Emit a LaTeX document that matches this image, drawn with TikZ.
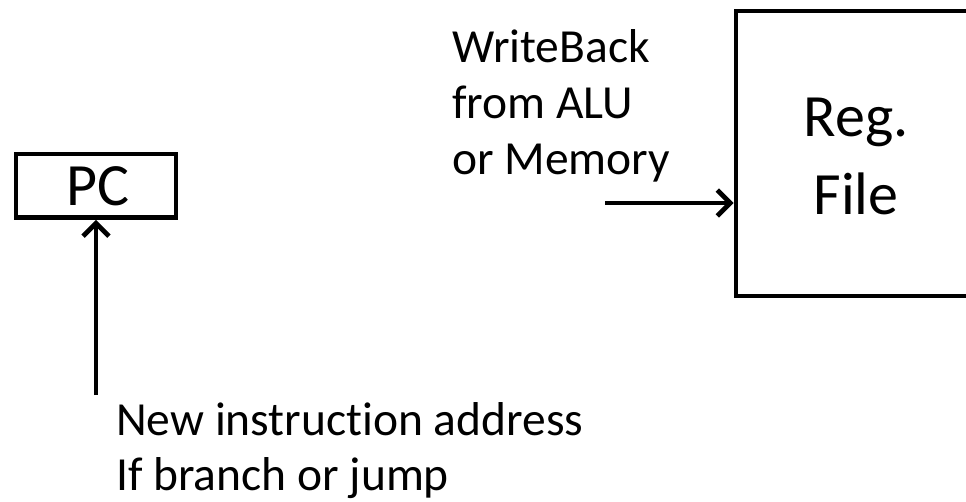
\documentclass[tikz,border=0pt]{standalone}
\usepackage{fontspec}
\setmainfont{Carlito}[Ligatures={NoCommon,NoContextual}]
\usetikzlibrary{arrows.meta}
\begin{document}
\begin{tikzpicture}[x=1pt,y=-1pt,
  box/.style={draw, line width=4.6pt, inner sep=0pt},
  big/.style={font=\fontsize{60}{70}\selectfont, inner sep=0pt},
  small/.style={font=\fontsize{47.5}{56}\selectfont, inner sep=0pt},
  arr/.style={line width=4.8pt, -{Straight Barb[length=13pt,width=26pt]}}]
\clip (0,0) rectangle (966,502);
% PC register
\node[box, minimum width=160pt, minimum height=63.5pt] (pc) at (96,185.75) {};
\node[big, anchor=base] (pct) at (97.5,206) {PC};
% Register file
\node[box, minimum width=240pt, minimum height=285pt] (reg) at (856,153.5) {};
\node[big, anchor=base] (regt1) at (856,137) {Reg.};
\node[big, anchor=base] (regt2) at (856,215) {File};
% write back input
\node[small, anchor=base west] (wb1) at (452,63) {WriteBack};
\node[small, anchor=base west] (wb2) at (452,119) {from ALU};
\node[small, anchor=base west] (wb3) at (452,175) {or Memory};
\coordinate (wbin) at (605,203);
\draw[arr] (wbin) -- (reg.west |- wbin);
% new address input
\coordinate (pcin) at (96,395);
\draw[arr] (pcin) -- (pc.south);
\node[small, anchor=base west] (na1) at (116,435) {New instruction address};
\node[small, anchor=base west] (na2) at (116,490) {If branch or jump};
\end{tikzpicture}
\end{document}
